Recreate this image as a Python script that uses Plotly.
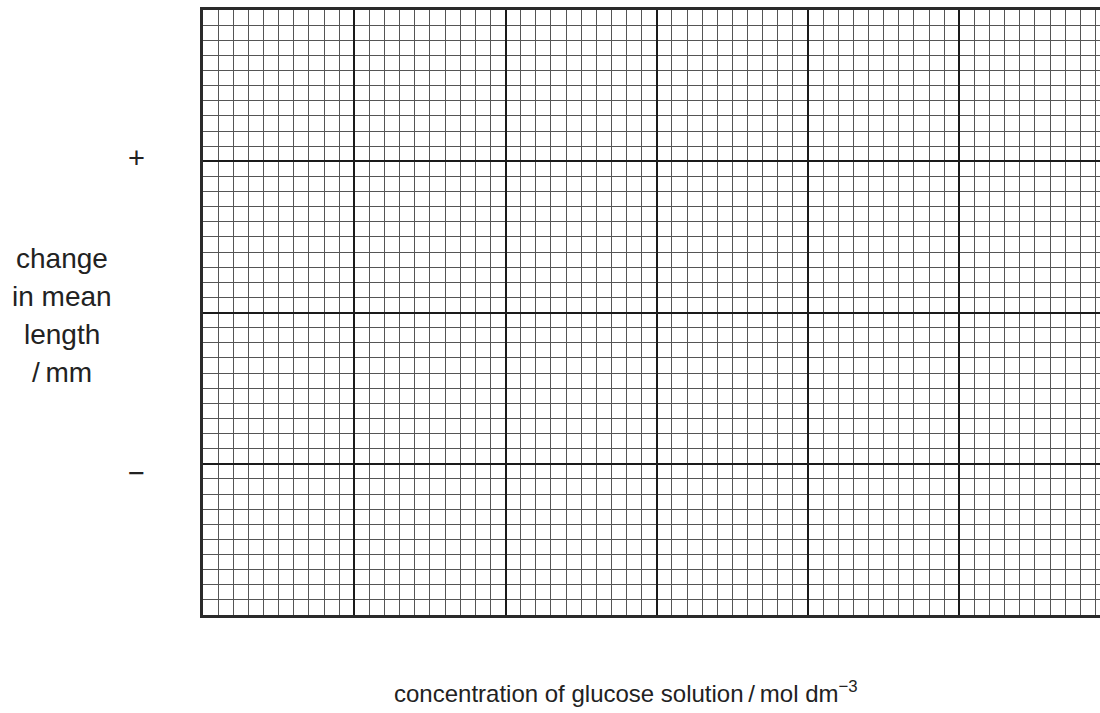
import plotly.graph_objects as go

# Grid paper: 40 small squares tall, ~59.3 visible wide
x_range = [0, 59.3]
y_range = [0, 40]
major_step = 10
minor_step = 1

sign_labels = ["+", "\u2212"]
sign_values = [30.2, 9.4]

y_title_lines = ["change", "in mean", "length", "/\u2009mm"]
x_title = "concentration of glucose solution\u2009/\u2009mol dm<sup>\u22123</sup>"

FONT = "Liberation Sans, Arial, Helvetica, sans-serif"
PLOT_L, PLOT_T, PLOT_B = 203, 10, 615
PLOT_W, PLOT_H = 1100 - PLOT_L, PLOT_B - PLOT_T

fig = go.Figure()
fig.add_trace(go.Scatter(x=[None], y=[None], mode="markers", showlegend=False, hoverinfo="skip"))

axis_common = dict(
    showticklabels=False,
    ticks="",
    zeroline=False,
    showgrid=True,
    gridcolor="#1a1a1a",
    gridwidth=2,
    dtick=major_step,
    tick0=0,
    minor=dict(dtick=minor_step, tick0=0, showgrid=True, gridcolor="#555555", gridwidth=1),
)

fig.update_xaxes(range=x_range, showline=True, linecolor="#2a2a2a", linewidth=2.5,
                 mirror=True, **axis_common)
fig.update_yaxes(range=y_range, showline=True, linecolor="#2a2a2a", linewidth=3,
                 mirror=False, **axis_common)

annotations = []
for lab, val in zip(sign_labels, sign_values):
    annotations.append(dict(text=lab, x=(136 - PLOT_L) / PLOT_W, xref="paper", y=val, yref="y",
                            xanchor="center", yanchor="middle", showarrow=False,
                            font=dict(family=FONT, size=29, color="#222")))

line_y_px = [258, 296, 334, 372]
for txt, ypx in zip(y_title_lines, line_y_px):
    annotations.append(dict(text=txt, x=(62 - PLOT_L) / PLOT_W, xref="paper",
                            y=(PLOT_B - ypx) / PLOT_H, yref="paper",
                            xanchor="center", yanchor="middle", showarrow=False,
                            font=dict(family=FONT, size=28, color="#222")))

annotations.append(dict(text=x_title, x=(626 - PLOT_L) / PLOT_W, xref="paper",
                        y=-(692 - PLOT_B) / PLOT_H, yref="paper",
                        xanchor="center", yanchor="middle", showarrow=False,
                        font=dict(family=FONT, size=24, color="#222")))

fig.update_layout(
    width=1100, height=713,
    margin=dict(l=PLOT_L, r=0, t=PLOT_T, b=713 - PLOT_B),
    paper_bgcolor="white", plot_bgcolor="white",
    annotations=annotations,
    showlegend=False,
)

fig.write_html("out.html", config={"displayModeBar": False},
               post_script="document.body.style.margin='0px';document.body.style.overflow='hidden';")
